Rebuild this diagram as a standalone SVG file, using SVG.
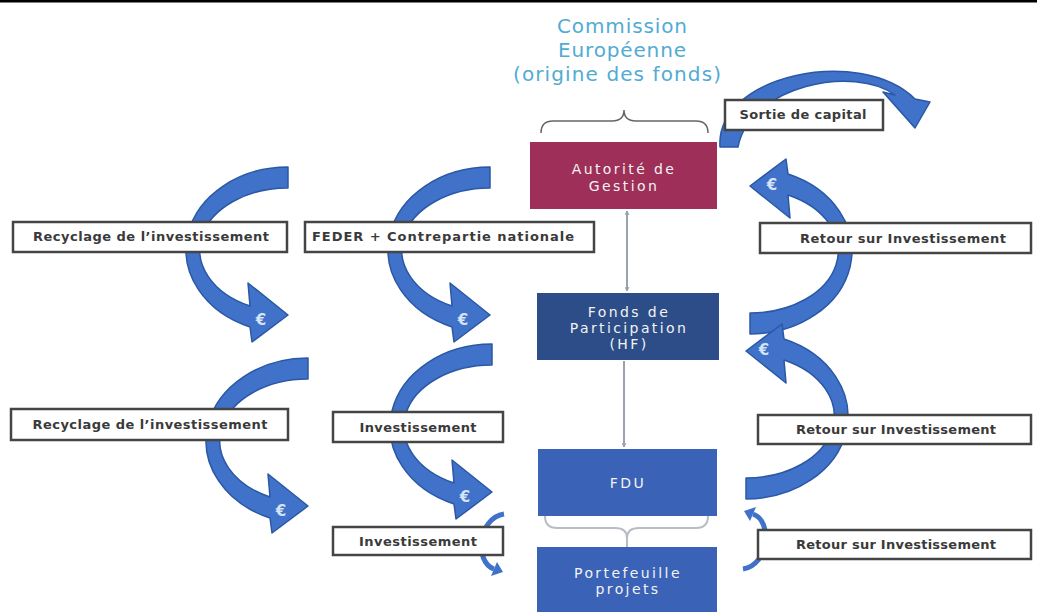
<svg xmlns="http://www.w3.org/2000/svg" width="1037" height="612" viewBox="0 0 1037 612">
<style>
.node text{font-family:"DejaVu Sans",Verdana,sans-serif;font-size:14px;letter-spacing:2.4px;fill:#f3f3f3;text-anchor:middle}
.lbl rect{fill:#fff;stroke:#454545;stroke-width:2.5}
.lbl text{font-family:"DejaVu Sans",sans-serif;font-weight:bold;font-size:13px;fill:#3a3a3a;text-anchor:middle}
.big{fill:#3f72c8;stroke:#2b58a5;stroke-width:1.5;stroke-linejoin:round}
.sband{fill:none;stroke:#3f72c8;stroke-width:5}
.shead{fill:#3f72c8}
.euro{font-family:"DejaVu Sans",sans-serif;font-weight:bold;font-size:15px;fill:#d6e4f6;text-anchor:middle}
.gline{fill:none;stroke:#9aa1b0;stroke-width:2}
.brace{fill:none;stroke:#666;stroke-width:1.5}
.brace2{fill:none;stroke:#b8bcc4;stroke-width:2}
.title{font-family:"DejaVu Sans",Verdana,sans-serif;font-size:20px;fill:#52abd3;text-anchor:middle}
</style>
<defs>
<marker id="vh" viewBox="0 0 10 10" refX="9" refY="5" markerWidth="5" markerHeight="5" orient="auto-start-reverse" markerUnits="userSpaceOnUse">
<path d="M1,1 L9,5 L1,9" fill="none" stroke="#9aa1b0" stroke-width="2"/>
</marker>
<path id="carrow" class="big" d="M288,167 A102 83 0 0 0 250,327 L252,342 L288,315 L248,283 L250,306 A88 62 0 0 1 288,188 Z"/>
<g id="sarrow">
<path class="sband" d="M504,514 C478,518 474,562 494,569"/>
<polygon class="shead" points="491,576 497,562 503,572"/>
</g>
</defs>
<rect x="0" y="0" width="1037" height="612" fill="#fff"/>
<rect x="0" y="0" width="1037" height="2.5" fill="#000"/>

<g id="commission">
<text class="title" x="622" y="33" textLength="130">Commission</text>
<text class="title" x="622" y="57" textLength="128">Européenne</text>
<text class="title" x="617" y="81" textLength="208">(origine des fonds)</text>
<path class="brace" d="M541,133 Q541,121 553,121 L612,121 Q624,121 624,110 Q624,121 636,121 L696,121 Q708,121 708,133"/>
</g>

<g id="connectors">
<use href="#carrow"/>
<use href="#carrow" transform="translate(202,0)"/>
<use href="#carrow" transform="translate(20,191)"/>
<use href="#carrow" transform="translate(204,177)"/>
<use href="#carrow" transform="matrix(-1 0 0 -1 1038 501)"/>
<use href="#carrow" transform="matrix(-1 0 0 -1 1034 666)"/>
<path class="big" d="M720,147 C715,75 860,45 915,99 L930,102 L915,128 L883,92 L895,95 C855,65 750,85 738,147 Z"/>
<use href="#sarrow"/>
<use href="#sarrow" transform="matrix(-1 0 0 -1 1247 1083)"/>
<line class="gline" x1="627" y1="211" x2="627" y2="291" marker-start="url(#vh)" marker-end="url(#vh)"/>
<line class="gline" x1="624" y1="361" x2="624" y2="447" marker-end="url(#vh)"/>
<path class="brace2" d="M545,516 Q545,528 557,528 L615,528 Q627,528 627,538 L627,547 M627,538 Q627,528 639,528 L696,528 Q708,528 708,516"/>
<text class="euro" x="261" y="325">€</text>
<text class="euro" x="463" y="325">€</text>
<text class="euro" x="281" y="516">€</text>
<text class="euro" x="465" y="502">€</text>
<text class="euro" x="772" y="190">€</text>
<text class="euro" x="764" y="355">€</text>
</g>

<g id="autorite" class="node">
<rect x="530" y="142" width="187" height="67" fill="#9e2f58"/>
<text x="624" y="174">Autorité de</text>
<text x="624" y="191">Gestion</text>
</g>
<g id="fonds" class="node">
<rect x="537" y="293" width="182" height="67" fill="#2c4d87"/>
<text x="629" y="317">Fonds de</text>
<text x="629" y="333">Participation</text>
<text x="629" y="349">(HF)</text>
</g>
<g id="fdu" class="node">
<rect x="538" y="449" width="179" height="67" fill="#3a62b6"/>
<text x="628" y="488">FDU</text>
</g>
<g id="portefeuille" class="node">
<rect x="537" y="547" width="180" height="70" fill="#3a62b6"/>
<text x="628" y="578">Portefeuille</text>
<text x="628" y="594">projets</text>
</g>

<g id="lbl-recyclage1" class="lbl"><rect x="13" y="222" width="274" height="30"/><text x="151" y="241" textLength="236">Recyclage de l’investissement</text></g>
<g id="lbl-feder" class="lbl"><rect x="305" y="222" width="289" height="30"/><text x="443" y="241" textLength="262">FEDER + Contrepartie nationale</text></g>
<g id="lbl-retour1" class="lbl"><rect x="760" y="223" width="271" height="30"/><text x="903" y="243" textLength="206">Retour sur Investissement</text></g>
<g id="lbl-recyclage2" class="lbl"><rect x="11" y="409" width="277" height="31"/><text x="150" y="429" textLength="235">Recyclage de l’investissement</text></g>
<g id="lbl-invest1" class="lbl"><rect x="333" y="412" width="170" height="30"/><text x="418" y="432" textLength="117">Investissement</text></g>
<g id="lbl-retour2" class="lbl"><rect x="758" y="415" width="273" height="29"/><text x="896" y="434" textLength="200">Retour sur Investissement</text></g>
<g id="lbl-invest2" class="lbl"><rect x="333" y="527" width="170" height="28"/><text x="418" y="546" textLength="118">Investissement</text></g>
<g id="lbl-retour3" class="lbl"><rect x="758" y="530" width="273" height="29"/><text x="896" y="549" textLength="200">Retour sur Investissement</text></g>
<g id="lbl-sortie" class="lbl"><rect x="725" y="100" width="158" height="30"/><text x="803" y="119" textLength="127">Sortie de capital</text></g>
</svg>
